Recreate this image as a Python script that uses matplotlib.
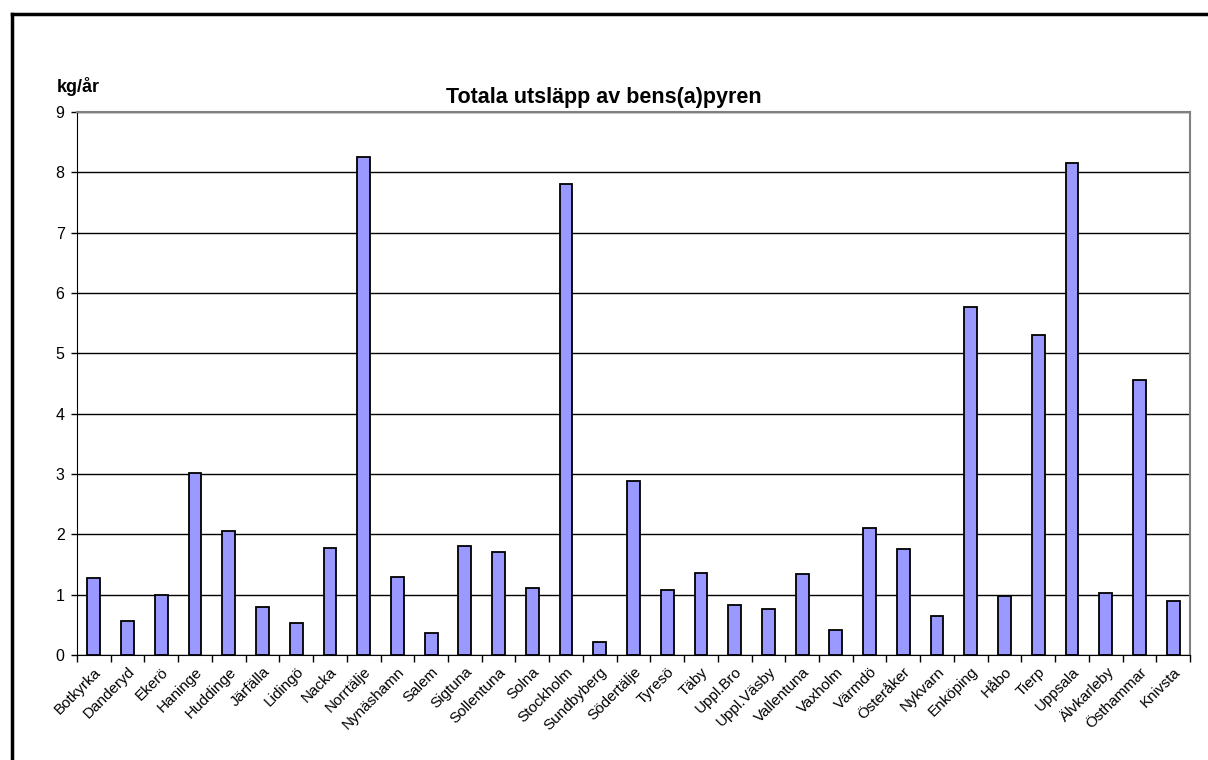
import numpy as np
import matplotlib.pyplot as plt
from matplotlib.lines import Line2D

plt.rcParams['font.family'] = ['Liberation Sans', 'DejaVu Sans']

kommuner = ['Botkyrka', 'Danderyd', 'Ekerö', 'Haninge', 'Huddinge', 'Järfälla',
            'Lidingö', 'Nacka', 'Norrtälje', 'Nynäshamn', 'Salem', 'Sigtuna',
            'Sollentuna', 'Solna', 'Stockholm', 'Sundbyberg', 'Södertälje',
            'Tyresö', 'Täby', 'Uppl.Bro', 'Uppl.Väsby', 'Vallentuna', 'Vaxholm',
            'Värmdö', 'Österåker', 'Nykvarn', 'Enköping', 'Håbo', 'Tierp',
            'Uppsala', 'Älvkarleby', 'Östhammar', 'Knivsta']
utslapp = [1.28, 0.57, 1.00, 3.02, 2.05, 0.80, 0.53, 1.78, 8.26, 1.29, 0.37,
           1.80, 1.71, 1.11, 7.80, 0.22, 2.89, 1.08, 1.36, 0.83, 0.77, 1.35,
           0.41, 2.10, 1.76, 0.64, 5.77, 0.97, 5.30, 8.15, 1.02, 4.55, 0.89]
yticks = list(range(0, 10))

fig = plt.figure(figsize=(12.08, 7.6), dpi=100)
ax = fig.add_axes([77 / 1208, 1 - 655 / 760, (1190 - 77) / 1208, (655 - 112) / 760])

x = np.arange(len(kommuner))
ax.bar(x, utslapp, width=0.38, color='#9999FF', edgecolor='black', linewidth=1.3, zorder=3)

ax.set_xlim(-0.5, len(kommuner) - 0.5)
ax.set_ylim(0, 9)
ax.set_yticks(yticks)
ax.tick_params(axis='y', labelsize=11.5, length=4, direction='out', width=1, pad=5)
ax.set_yticklabels([str(t) for t in yticks])

# category boundaries as tick marks, labels centered on bars
ax.set_xticks(np.arange(len(kommuner) + 1) - 0.5)
ax.set_xticklabels([])
ax.set_xticks(x, minor=True)
ax.set_xticklabels(kommuner, minor=True, rotation=45, ha='right', va='top',
                   rotation_mode='anchor', fontsize=11)
ax.tick_params(axis='x', which='major', length=5, width=1)
ax.tick_params(axis='x', which='minor', length=0, pad=7)

ax.grid(axis='y', color='black', linewidth=1, zorder=0)
ax.spines['top'].set_color('#808080')
ax.spines['right'].set_color('#808080')
ax.spines['top'].set_linewidth(1.5)
ax.spines['right'].set_linewidth(1.5)
ax.spines['left'].set_color('black')
ax.spines['bottom'].set_color('black')

fig.text(604 / 1208, 1 - 97 / 760, 'Totala utsläpp av bens(a)pyren', ha='center',
         va='center', fontsize=15.5, fontweight='bold')
fig.text(57 / 1208, 1 - 86 / 760, 'kg/år', ha='left', va='center',
         fontsize=13, fontweight='bold')

# outer frame (left and top edges visible)
fig.add_artist(Line2D([11.5 / 1208, 11.5 / 1208], [0, 1 - 14 / 760], color='black',
                      linewidth=2.5, transform=fig.transFigure))
fig.add_artist(Line2D([11.5 / 1208, 1], [1 - 14 / 760, 1 - 14 / 760], color='black',
                      linewidth=2.5, transform=fig.transFigure))

fig.savefig('out.png', dpi=100)
